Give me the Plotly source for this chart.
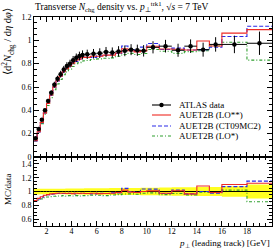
import plotly.graph_objects as go

# ---------------- data ----------------
bin_edges = [1.0, 1.25, 1.5, 1.75, 2.0, 2.25, 2.5, 2.75, 3.0, 3.25, 3.5, 3.75, 4.0,
             4.25, 4.5, 4.75, 5.0, 5.5, 6.0, 6.5, 7.0, 7.5, 8.0, 8.5, 9.0, 9.5, 10.0,
             11.0, 12.0, 13.0, 14.0, 15.0, 16.0, 18.0, 20.0]

atlas_val = [0.16, 0.24, 0.32, 0.40, 0.48, 0.55, 0.62, 0.67, 0.71, 0.75, 0.78, 0.80,
             0.83, 0.85, 0.865, 0.875, 0.88, 0.885, 0.89, 0.90, 0.895, 0.905, 0.91,
             0.92, 0.915, 0.91, 0.94, 0.95, 0.915, 0.95, 0.92, 0.965, 0.965, 0.975]
atlas_err = [0.007, 0.010, 0.013, 0.016, 0.019, 0.022, 0.025, 0.027, 0.029, 0.031,
             0.033, 0.034, 0.036, 0.037, 0.038, 0.039, 0.040, 0.041, 0.042, 0.043,
             0.044, 0.045, 0.046, 0.047, 0.048, 0.049, 0.052, 0.054, 0.056, 0.058,
             0.060, 0.062, 0.075, 0.10]

lo2_val = [0.139, 0.216, 0.296, 0.378, 0.458, 0.531, 0.601, 0.653, 0.692, 0.731,
           0.757, 0.780, 0.805, 0.829, 0.839, 0.853, 0.854, 0.863, 0.863, 0.873,
           0.873, 0.891, 0.928, 0.911, 0.901, 0.910, 0.949, 0.926, 0.924, 0.917,
           0.994, 0.951, 1.062, 1.092]
ct09_val = [0.138, 0.214, 0.294, 0.376, 0.458, 0.528, 0.598, 0.650, 0.692, 0.728,
            0.761, 0.776, 0.809, 0.820, 0.839, 0.853, 0.854, 0.854, 0.868, 0.873,
            0.877, 0.887, 0.951, 0.920, 0.906, 0.942, 0.973, 0.922, 0.933, 0.917,
            0.920, 0.941, 1.033, 1.121]
lo1_val = [0.138, 0.210, 0.286, 0.364, 0.442, 0.509, 0.577, 0.626, 0.664, 0.705,
           0.729, 0.752, 0.776, 0.799, 0.809, 0.823, 0.827, 0.836, 0.841, 0.846,
           0.850, 0.864, 0.878, 0.888, 0.878, 0.887, 0.921, 0.907, 0.888, 0.903,
           0.911, 0.951, 0.984, 0.830]

x_ticks = [2, 4, 6, 8, 10, 12, 14, 16, 18, 20]

legend_names = ["ATLAS data", "AUET2B (LO**)", "AUET2B (CT09MC2)", "AUET2B (LO*)"]

# ---------------- styling ----------------
FONT = "Liberation Serif"
W, H = 275, 249
ML, MR, MT, MB = 34, 3, 17, 23
PW, PH = W - ML - MR, H - MT - MB
split = 69 / PH  # ratio panel height fraction

RED = "#ee2a24"
BLUE = "#2a2ae8"
GREEN = "#2f9f2f"

centers = [(bin_edges[i] + bin_edges[i + 1]) / 2 for i in range(len(atlas_val))]
halfw = [(bin_edges[i + 1] - bin_edges[i]) / 2 for i in range(len(atlas_val))]


def step(vals):
    return list(bin_edges), list(vals) + [vals[-1]]


fig = go.Figure()

# ratio band (data uncertainty)
rel_lo = [1 - e / v for v, e in zip(atlas_val, atlas_err)]
rel_hi = [1 + e / v for v, e in zip(atlas_val, atlas_err)]
sx, sy = step(rel_lo)
fig.add_trace(go.Scatter(x=sx, y=sy, mode="lines", line=dict(width=0, shape="hv"),
                         xaxis="x2", yaxis="y2", showlegend=False, hoverinfo="skip"))
sx, sy = step(rel_hi)
fig.add_trace(go.Scatter(x=sx, y=sy, mode="lines", line=dict(width=0, shape="hv"),
                         fill="tonexty", fillcolor="#ffff22",
                         xaxis="x2", yaxis="y2", showlegend=False, hoverinfo="skip"))
sx, sy = step([1.0] * len(atlas_val))
fig.add_trace(go.Scatter(x=sx, y=sy, mode="lines", line=dict(color="black", width=1, shape="hv"),
                         xaxis="x2", yaxis="y2", showlegend=False, hoverinfo="skip"))

styles = [
    (lo1_val, GREEN, "3px,2px,1px,2px"),
    (ct09_val, BLUE, "4px,2px"),
    (lo2_val, RED, "solid"),
]
for vals, col, dash in styles:
    sx, sy = step(vals)
    fig.add_trace(go.Scatter(x=sx, y=sy, mode="lines",
                             line=dict(color=col, width=1.1, dash=dash, shape="hv"),
                             xaxis="x", yaxis="y", showlegend=False))
    ratio = [m / d for m, d in zip(vals, atlas_val)]
    sx, sy = step(ratio)
    fig.add_trace(go.Scatter(x=sx, y=sy, mode="lines",
                             line=dict(color=col, width=1.1, dash=dash, shape="hv"),
                             xaxis="x2", yaxis="y2", showlegend=False))

# data points
fig.add_trace(go.Scatter(
    x=centers, y=atlas_val, mode="markers",
    marker=dict(color="black", size=4.5),
    error_y=dict(type="data", array=atlas_err, color="black", thickness=1, width=0),
    error_x=dict(type="data", array=halfw, color="black", thickness=1, width=0),
    xaxis="x", yaxis="y", showlegend=False))

axis_common = dict(
    showline=True, linecolor="black", linewidth=1, mirror="ticks",
    ticks="inside", tickcolor="black", tickwidth=1, zeroline=False, showgrid=False,
    tickfont=dict(family=FONT, size=8, color="black"),
)

fig.update_layout(
    width=W, height=H,
    margin=dict(l=ML, r=MR, t=MT, b=MB, pad=0),
    paper_bgcolor="white", plot_bgcolor="white",
    showlegend=False,
    xaxis=dict(domain=[0, 1], anchor="y", range=[1, 20], tickvals=x_ticks,
               showticklabels=False, ticklen=5,
               minor=dict(dtick=0.5, tick0=0, ticklen=3, ticks="inside", tickcolor="black"),
               **axis_common),
    yaxis=dict(domain=[split, 1], anchor="x", range=[0, 1.2], dtick=0.2, tick0=0,
               ticklen=5,
               minor=dict(dtick=0.05, tick0=0, ticklen=3, ticks="inside", tickcolor="black"),
               **axis_common),
    xaxis2=dict(domain=[0, 1], anchor="y2", range=[1, 20], tickvals=x_ticks,
                ticklen=5, matches="x", ticklabelstandoff=-3,
                minor=dict(dtick=0.5, tick0=0, ticklen=3, ticks="inside", tickcolor="black"),
                **axis_common),
    yaxis2=dict(domain=[0, split], anchor="x2", range=[0.5, 1.5], dtick=0.2, tick0=0.6,
                ticklen=5,
                minor=dict(dtick=0.05, tick0=0, ticklen=3, ticks="inside", tickcolor="black"),
                **axis_common),
)


def px_x(px):
    return (px - ML) / PW


def px_y(py):
    return (H - MB - py) / PH


ann = []
ann.append(dict(text="Transverse <i>N</i><sub>chg</sub> density vs. <i>p</i><sub>⊥</sub><sup>trk1</sup>, √<i>s</i> = 7 TeV",
                x=px_x(33), y=px_y(6), xref="paper", yref="paper", xanchor="left", yanchor="middle",
                showarrow=False, font=dict(family=FONT, size=9.5, color="black")))
ann.append(dict(text="⟨d<sup>2</sup><i>N</i><sub>chg</sub> / d<i>η</i> d<i>φ</i>⟩",
                x=px_x(8), y=px_y(42), xref="paper", yref="paper", xanchor="center", yanchor="middle",
                textangle=-90, showarrow=False, font=dict(family=FONT, size=10.5, color="black")))
ann.append(dict(text="MC/data",
                x=px_x(8), y=px_y(189), xref="paper", yref="paper", xanchor="center", yanchor="middle",
                textangle=-90, showarrow=False, font=dict(family=FONT, size=9, color="black")))
ann.append(dict(text="<i>p</i><sub>⊥</sub> (leading track) [GeV]",
                x=1, y=px_y(243), xref="paper", yref="paper", xanchor="right", yanchor="middle",
                showarrow=False, font=dict(family=FONT, size=9, color="black")))

# manual legend
leg_rows = [105, 115, 126, 136]
leg_styles = [("black", "solid"), (RED, "solid"), (BLUE, "4px,2px"), (GREEN, "3px,2px,1px,2px")]
shapes = []
for name, row, (col, dash) in zip(legend_names, leg_rows, leg_styles):
    shapes.append(dict(type="line", xref="paper", yref="paper",
                       x0=px_x(152), x1=px_x(171), y0=px_y(row), y1=px_y(row),
                       line=dict(color=col, width=1.1, dash=dash)))
    ann.append(dict(text=name, x=px_x(177), y=px_y(row), xref="paper", yref="paper",
                    xanchor="left", yanchor="middle", showarrow=False,
                    font=dict(family=FONT, size=9, color="black")))
shapes.append(dict(type="circle", xref="paper", yref="paper", fillcolor="black",
                   line=dict(color="black", width=0),
                   x0=px_x(159.3), x1=px_x(163.7), y0=px_y(107.2), y1=px_y(102.8)))

fig.update_layout(annotations=ann, shapes=shapes)
fig.write_html("out.html", config={"displayModeBar": False},
               post_script="document.body.style.margin='0';document.body.style.padding='0';")
